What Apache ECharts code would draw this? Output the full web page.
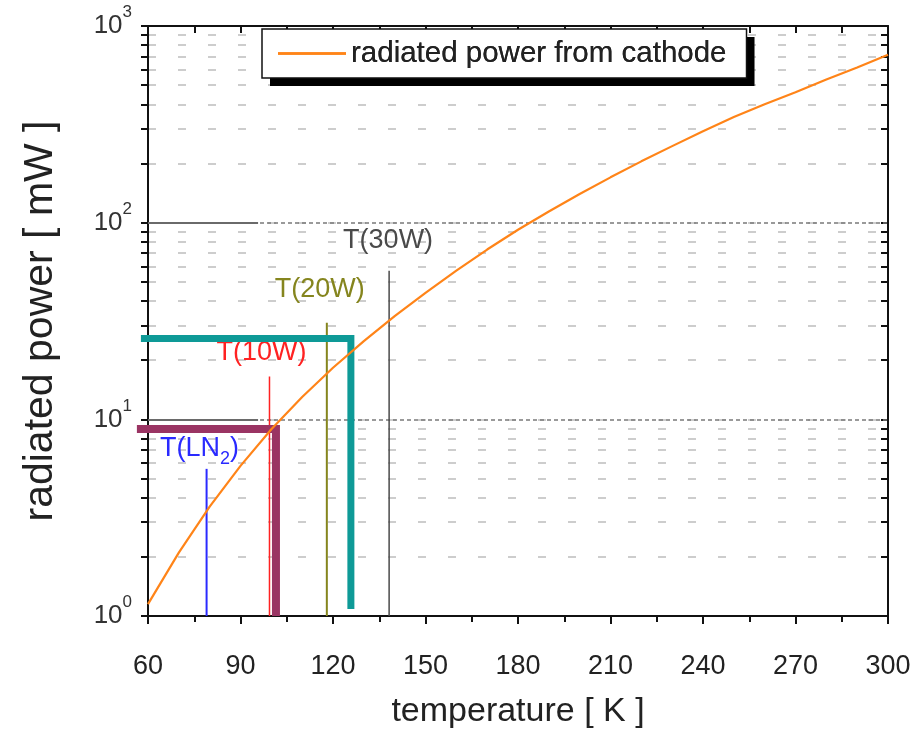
<!DOCTYPE html>
<html><head><meta charset="utf-8">
<script src="https://cdn.jsdelivr.net/npm/echarts@6/dist/echarts.min.js"></script>
<style>html,body{margin:0;padding:0;background:#fff}#c{width:917px;height:734px}</style>
</head><body><div id="c"></div>
<script>
// ---- data ----
const temperatureK = [60,70,80,90,100,110,120,130,140,150,160,170,180,190,200,210,220,230,240,250,260,270,280,290,300];
const radiatedPowerMW = [1.15,2.1,3.6,5.8,8.9,13.0,18.3,25,33.5,44,57,73,92,114,140,170,205,245,292,345,400,460,535,615,715];
const seriesName = 'radiated power from cathode';

const xTickValues = [60,90,120,150,180,210,240,270,300];
const yTickValues = [1,2,3,4,5,6,7,8,9,10,20,30,40,50,60,70,80,90,100,200,300,400,500,600,700,800,900,1000];
const yLabelValues = [1,10,100,1000];
const yDecadeGrid = [10,100];
const decadeSolidEndK = 95.7;

const markerLabels = ['T(LN2)','T(10W)','T(20W)','T(30W)'];
const markerTempsK = [79,99.4,118,138.2];
const markerTopsMW = [5.6,16.5,31,57];

const tealGuide = [[57.7,25.8],[125.8,25.8],[125.8,1.085]];
const purpleGuide = [[56.4,8.93],[101.5,8.93],[101.5,1]];

// ---- styles ----
const FONT = "'Liberation Sans',Arial,sans-serif";
const markerColors = ['#2a2aff','#ff2222','#85851e','#4a4a4a'];
const markerWidths = [2,1.5,2,1.5];
const markerOffsets = [[-7,-1.5],[-8,-5.5],[-7,-14.5],[-1,-11.5]];

const chart = echarts.init(document.getElementById('c'), null, {renderer:'canvas'});

const curveData = temperatureK.map((t,i)=>[t, radiatedPowerMW[i]]);

const markerSeries = markerLabels.map((lab,i)=>({
  type:'line', z:3, silent:true, showSymbol:true, symbol:'circle', symbolSize:0.01, animation:false,
  itemStyle:{color:markerColors[i], opacity:0},
  lineStyle:{color:markerColors[i], width:markerWidths[i]},
  label:{show:false},
  data:[
    {value:[markerTempsK[i],1]},
    {value:[markerTempsK[i],markerTopsMW[i]],
      label:{show:true, position:'top', offset:markerOffsets[i], distance:5, opacity:1,
        formatter: i===0 ? '{a|T(LN}{s|2}{a|)}' : '{a|'+lab+'}',
        rich:{
          a:{fontFamily:FONT, fontSize:27, lineHeight:27, color:markerColors[i], verticalAlign:'top'},
          s:{fontFamily:FONT, fontSize:18, lineHeight:18, color:markerColors[i], verticalAlign:'top', padding:[15,0,0,0]}
        }}}
  ]
}));

function guideSeries(points, color, width){
  return {
    type:'custom', z:4, silent:true, animation:false, clip:false,
    data: points,
    encode:{x:0, y:1},
    renderItem:function(params, api){
      if (params.dataIndex !== 0) return null;
      const pts = points.map(p => api.coord(p));
      return {type:'polyline', shape:{points:pts},
              style:{stroke:color, lineWidth:width, fill:null, lineJoin:'miter', lineCap:'butt'}};
    }
  };
}

const legendBase = {
  data:[{name:seriesName, icon:'rect'}],
  left:262, top:29, orient:'horizontal',
  itemWidth:68, itemHeight:2.5,
  padding:[8,20,8,16],
  selectedMode:false,
  textStyle:{fontFamily:FONT, fontSize:29.5, lineHeight:33, color:'#222'}
};

const option = {
  backgroundColor:'#fff',
  animation:false,
  grid:{left:148, right:29, top:26, bottom:117, containLabel:false},
  legend:[
    Object.assign({}, legendBase, {z:20, backgroundColor:'#fff', borderWidth:0,
      shadowColor:'#000', shadowOffsetX:8, shadowOffsetY:8, shadowBlur:0}),
    Object.assign({}, legendBase, {z:21, backgroundColor:'transparent', borderColor:'#111', borderWidth:1.5})
  ],
  xAxis:[
    {type:'value', min:60, max:300, interval:30, position:'bottom',
     name:'temperature [ K ]', nameLocation:'middle', nameGap:79,
     nameTextStyle:{fontFamily:FONT, fontSize:34, color:'#222'},
     axisLine:{show:true, onZero:false, lineStyle:{color:'#111', width:2}},
     axisTick:{show:true, inside:false, length:8, lineStyle:{color:'#111', width:2}},
     minorTick:{show:true, splitNumber:2, length:6, lineStyle:{color:'#111', width:2}},
     axisLabel:{show:true, margin:37, fontFamily:FONT, fontSize:27, color:'#222',
                customValues:xTickValues},
     splitLine:{show:false}},
    {type:'value', min:60, max:300, interval:30, position:'top',
     axisLine:{show:true, onZero:false, lineStyle:{color:'#111', width:2}},
     axisTick:{show:true, inside:true, length:7, lineStyle:{color:'#111', width:2}},
     minorTick:{show:true, splitNumber:2, length:7, lineStyle:{color:'#111', width:2}},
     axisLabel:{show:false}, splitLine:{show:false}}
  ],
  yAxis:[
    {type:'log', logBase:10, min:1, max:1000, position:'left',
     name:'radiated power [ mW ]', nameLocation:'middle', nameGap:87, nameRotate:90,
     nameTextStyle:{fontFamily:FONT, fontSize:41, color:'#222'},
     axisLine:{show:true, onZero:false, lineStyle:{color:'#111', width:2}},
     axisTick:{show:true, inside:false, length:7, customValues:yTickValues, lineStyle:{color:'#111', width:2}},
     axisLabel:{show:true, margin:16, customValues:yLabelValues,
       formatter:function(v){ const e=Math.round(Math.log10(v)); return '{b|10}{e|'+e+'}'; },
       rich:{
         b:{fontFamily:FONT, fontSize:26, lineHeight:44, color:'#333', verticalAlign:'middle'},
         e:{fontFamily:FONT, fontSize:17, lineHeight:17, color:'#333', verticalAlign:'top'}
       }},
     splitLine:{show:true, lineStyle:{color:'#cdcdcd', width:2, type:[8,22]}}},
    {type:'log', logBase:10, min:1, max:1000, position:'right',
     axisLine:{show:true, onZero:false, lineStyle:{color:'#111', width:2}},
     axisTick:{show:true, inside:true, length:7, customValues:yTickValues, lineStyle:{color:'#111', width:2}},
     axisLabel:{show:false}, splitLine:{show:false}}
  ],
  series:[
    {name:seriesName, type:'line', z:6, showSymbol:false, symbol:'none', silent:true,
     itemStyle:{color:'#ff8418'},
     lineStyle:{color:'#ff8418', width:2.2},
     data:curveData,
     markLine:{silent:true, symbol:'none', animation:false, label:{show:false}, z:2,
       data: yDecadeGrid.map(v=>({yAxis:v, lineStyle:{color:'#7a7a7a', width:1.5, type:[4,3]}}))
         .concat(yDecadeGrid.map(v=>[{coord:[60,v], lineStyle:{color:'#6a6a6a', width:2, type:'solid'}},{coord:[decadeSolidEndK,v]}]))
     }},
    ...markerSeries,
    guideSeries(tealGuide, '#0e9a97', 7),
    guideSeries(purpleGuide, '#9a3463', 8)
  ]
};
chart.setOption(option);
</script>
</body></html>
